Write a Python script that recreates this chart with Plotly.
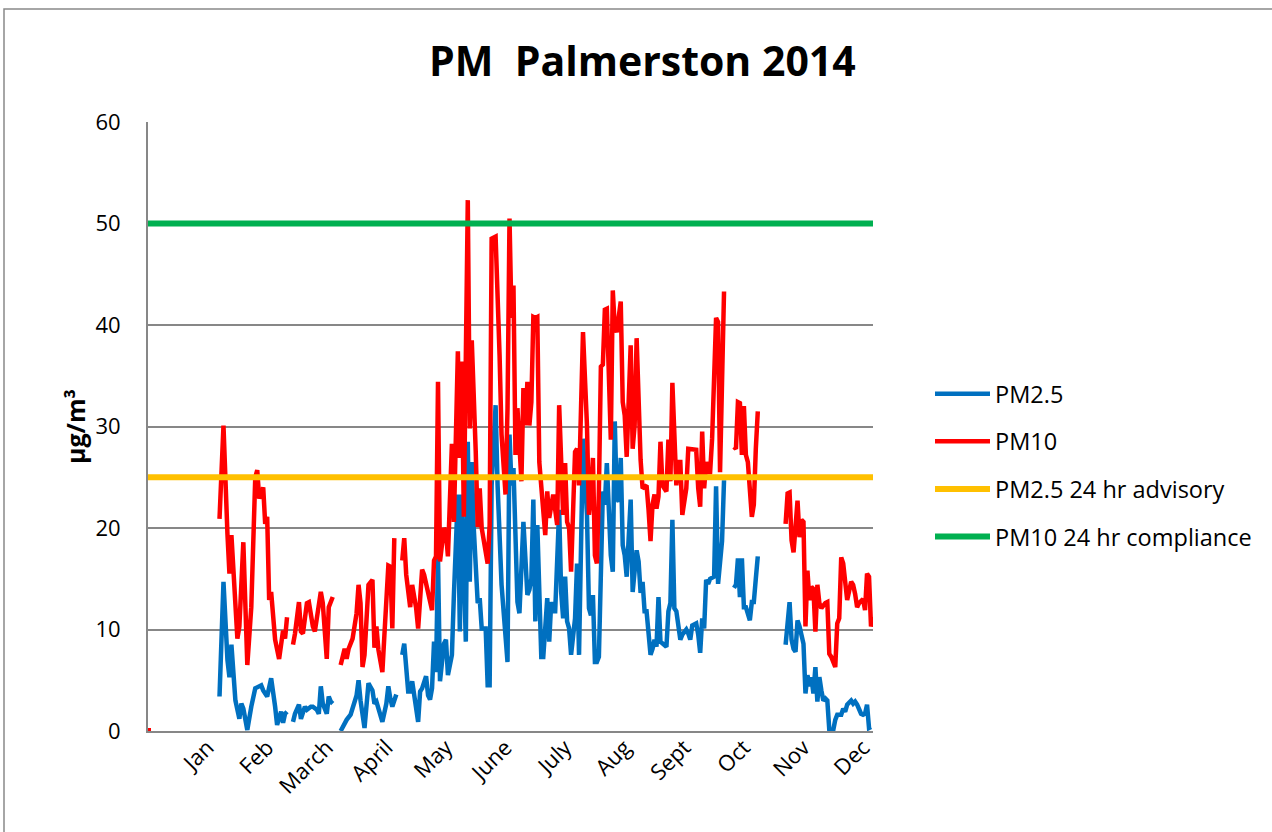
import plotly.graph_objects as go

# ---------------- data (day of year index, value in ug/m3) ----------------
months = ["Jan", "Feb", "March", "April", "May", "June", "July", "Aug", "Sept", "Oct", "Nov", "Dec"]
month_label_days = [30, 60, 90, 120, 150, 180, 210, 240, 270, 300, 330, 360]

pm10_days = [0, 1,
    36, 38, 40, 41, 42, 44, 45, 46, 48, 50, 52, 54, 55, 56, 58, 59, 60, 61, 62, 64, 66, 68, 69, 70, 71,
    73, 74, 76, 77, 78, 80, 81, 83, 84, 85, 87, 88, 89, 90, 91, 92, 93, 95,
    97, 99, 100, 101, 103, 105, 106, 107, 108, 109, 111, 113, 114, 115, 116, 118, 119, 121, 122, 123, 124, 126,
    128, 129, 130, 132, 133, 135, 136, 138, 139, 141,
    143, 144, 145, 146, 147, 149, 150, 151, 153, 154,
    155, 156, 157, 158, 159, 161, 162, 163, 165, 166,
    167, 168, 171, 172, 173, 175, 177, 178, 180, 181,
    182, 183, 184, 185, 186, 188, 189, 190, 191, 192,
    193, 194, 195, 196, 197, 198, 200, 201, 202, 204,
    205, 206, 207, 208, 209, 210, 211, 212, 213, 215,
    216, 217, 218, 219, 221, 222, 223, 224, 225, 226,
    227, 228, 229, 230, 231, 233, 234, 235, 236, 238,
    239, 240, 241, 243, 244, 245, 246, 247, 248, 249,
    251, 252, 253, 254, 255, 256, 257, 258, 259, 260,
    261, 262, 263, 264, 266, 267, 268, 269, 271, 272,
    273, 274, 276, 277, 278, 279, 280, 281, 282, 283,
    284, 286, 287, 288, 289, 290, 292,
    295, 296, 297, 298, 299, 300, 301, 302, 304, 305, 306, 307, 314,
    321, 322, 323, 324, 325, 326, 327, 328, 329, 330,
    331, 332, 333, 334, 335, 336, 337, 338, 339, 341,
    342, 343, 344, 346, 347, 348, 349, 350, 351, 352,
    354, 355, 356, 357, 358, 360, 361, 362, 363, 364, 365]
pm10_vals = [0, None,
    20.9, 30.1, 19.4, 15.5, 19.3, 11.2, 9.1, 10.3, 18.6, 6.5, 12.2, 25.0, 25.7, 22.9, 24.0, 20.4, 21.1, 12.9, 13.7, 9.0, 7.1, 9.9, 9.1, 11.2, None,
    8.5, 9.6, 12.7, 9.8, 9.6, 12.6, 12.7, 10.3, 9.8, 10.9, 13.7, 12.6, 9.6, 7.1, 12.2, 12.6, 13.2, None,
    6.5, 8.1, 7.1, 8.1, 9.1, 11.6, 14.4, 12.6, 6.3, 7.5, 14.4, 14.9, 8.2, 10.3, 8.0, 5.8, 9.4, 16.3, 16.2, 10.1, 19.0, None,
    16.8, 19.0, 15.4, 12.2, 14.4, 12.1, 10.1, 15.9, 15.4, 13.4,
    11.9, 16.8, 17.2, 34.4, 16.7, 20.0, 19.6, 17.2, 28.3, 20.6,
    28.5, 37.4, 26.9, 36.4, 21.1, 52.3, 29.8, 38.5, 27.5, 20.1,
    23.9, 20.0, 16.5, 20.3, 48.5, 48.7, 37.0, 29.2, 23.3, 31.8,
    50.5, 40.7, 43.9, 27.2, 31.8, 24.6, 33.8, 30.1, 34.4, 30.1,
    32.4, 40.8, 40.7, 40.8, 26.5, 24.1, 19.3, 23.6, 21.0, 23.3,
    21.3, 20.3, 32.1, 26.0, 21.3, 26.4, 20.6, 20.0, 15.7, 27.5,
    27.8, 24.2, 30.1, 39.3, 30.1, 21.3, 23.3, 26.9, 17.3, 16.5,
    23.6, 35.9, 36.1, 41.5, 41.6, 28.7, 43.4, 39.7, 39.3, 42.3,
    32.4, 31.1, 27.0, 38.0, 27.8, 30.1, 38.7, 32.4, 26.7, 23.9,
    24.2, 21.8, 18.7, 22.3, 23.3, 21.9, 23.1, 28.5, 24.2, 23.9,
    23.6, 28.7, 24.6, 34.3, 24.2, 26.5, 26.5, 21.3, 23.9, 27.8,
    27.8, 27.7, 27.7, 23.9, 22.1, 29.5, 23.9, 26.5, 25.5, 25.5,
    28.8, 40.7, 40.3, 25.5, 34.4, 43.3, None,
    28.0, 27.8, 32.4, 32.3, 27.2, 32.0, 27.2, 26.5, 21.1, 22.3, 27.8, 31.5, None,
    20.4, 23.4, 23.5, 18.8, 17.6, 20.1, 22.7, 19.1, 20.8, 20.6,
    10.3, 15.8, 12.9, 14.2, 14.0, 9.8, 14.4, 12.6, 12.1, 12.6,
    12.7, 7.6, 7.3, 6.3, 10.6, 11.1, 17.1, 16.5, 14.7, 12.9,
    14.7, 14.4, 13.5, 12.2, 12.6, 13.0, 11.9, 15.5, 15.2, 10.3, 11.2]

pm25_days = [
    36, 38, 40, 41, 42, 44, 46, 47, 48, 50, 52, 54, 57, 58, 60, 62, 64, 65, 67, 68, 69, 70, 71,
    73, 74, 76, 77, 79, 80, 82, 83, 85, 86, 87, 88, 90, 91, 92, 93, 95,
    97, 99, 100, 102, 104, 105, 106, 107, 109, 110, 111, 113, 114, 115, 117, 118, 120, 121, 122, 123, 125, 126,
    128, 129, 131, 132, 133, 135, 136, 137, 138, 140,
    141, 142, 143, 144, 145, 146, 147, 149, 150, 151,
    153, 154, 156, 157, 158, 160, 161, 162, 163, 164,
    166, 167, 168, 170, 171, 172, 173, 175, 176, 178,
    179, 181, 182, 183, 184, 186, 187, 188, 189, 191,
    192, 193, 194, 195, 196, 198, 199, 201, 202, 203,
    204, 205, 207, 208, 209, 210, 211, 212, 213, 215,
    216, 217, 218, 219, 221, 222, 223, 224, 225, 226,
    227, 228, 229, 230, 231, 233, 234, 235, 236, 237,
    238, 239, 240, 241, 243, 244, 245, 246, 247, 248,
    249, 250, 251, 253, 254, 255, 256, 257, 258, 259,
    261, 262, 263, 264, 265, 266, 267, 268, 269, 271,
    272, 273, 274, 276, 277, 278, 279, 280, 281, 282,
    283, 285, 286, 287, 289, 290, 292,
    295, 296, 297, 298, 299, 300, 301, 302, 303, 304, 305, 306, 307, 314,
    321, 322, 323, 324, 325, 326, 327, 328, 329, 330,
    331, 332, 333, 334, 335, 336, 337, 338, 339, 340,
    341, 342, 343, 344, 345, 346, 347, 349, 350, 351,
    352, 354, 355, 356, 357, 359, 360, 361, 362, 363, 364]
pm25_vals = [
    3.4, 14.7, 7.0, 5.3, 8.5, 3.0, 1.2, 2.7, 2.2, 0.1, 2.4, 4.2, 4.5, 4.0, 3.4, 5.2, 2.4, 0.6, 1.9, 0.8, 1.7, 1.9, None,
    0.9, 1.7, 2.6, 1.2, 2.4, 2.1, 2.4, 2.4, 2.1, 1.7, 4.4, 2.7, 1.7, 3.4, 2.9, 2.7, None,
    0.0, 0.9, 1.1, 1.6, 2.7, 3.5, 5.0, 3.0, 0.3, 2.1, 4.7, 4.0, 2.7, 2.9, 1.7, 0.9, 2.7, 4.4, 3.2, 2.4, 3.6, None,
    7.5, 8.6, 3.9, 3.9, 4.9, 2.1, 0.9, 3.9, 4.2, 5.4,
    3.5, 3.1, 4.2, 8.8, 5.8, 17.0, 4.9, 8.6, 9.0, 5.5,
    7.5, 13.4, 23.3, 9.8, 23.3, 8.8, 28.5, 14.7, 26.5, 20.0,
    12.6, 13.1, 10.1, 10.1, 4.5, 4.5, 24.2, 32.1, 24.2, 14.4,
    12.1, 6.8, 29.2, 24.2, 25.9, 12.7, 11.6, 17.7, 20.6, 13.4,
    13.9, 15.0, 22.8, 10.8, 20.3, 7.3, 7.3, 13.1, 8.8, 12.7,
    11.8, 11.8, 21.8, 13.7, 11.1, 15.2, 10.8, 10.1, 7.5, 11.1,
    16.5, 7.5, 18.0, 28.8, 21.3, 12.1, 11.4, 13.4, 6.8, 6.8,
    7.3, 18.3, 23.6, 22.3, 26.4, 17.3, 15.7, 30.5, 22.9, 22.6,
    26.9, 18.3, 17.3, 15.2, 22.8, 13.7, 16.4, 17.8, 16.7, 13.6,
    14.7, 11.8, 11.8, 7.5, 8.1, 9.0, 8.3, 13.2, 8.8, 8.6,
    8.3, 11.8, 12.6, 20.8, 12.1, 11.8, 10.0, 9.0, 9.5, 10.0,
    9.6, 9.0, 10.4, 10.6, 9.5, 7.7, 11.1, 10.1, 14.9, 14.5,
    15.0, 15.2, 24.1, 14.5, 18.7, 24.7, None,
    14.1, 14.4, 17.0, 13.2, 17.0, 12.2, 12.2, 11.4, 10.9, 12.7, 12.7, 15.0, 17.2, None,
    8.5, 11.2, 12.7, 9.0, 8.1, 7.8, 10.9, 10.3, 9.6, 8.6,
    3.7, 5.5, 4.4, 5.3, 3.7, 6.3, 2.9, 5.3, 4.0, 3.0,
    3.2, 3.0, 0.1, 0.1, 0.1, 1.1, 1.6, 1.6, 2.2, 1.9,
    2.6, 3.0, 2.7, 2.9, 2.6, 1.7, 1.6, 1.7, 2.6, 0.3, 0.4]

advisory_days = [0, 365]
advisory_vals = [25, 25]
compliance_days = [0, 365]
compliance_vals = [50, 50]

assert len(pm10_days) == len(pm10_vals)
assert len(pm25_days) == len(pm25_vals)

FONT = "Open Sans"
GRID = "#878787"

fig = go.Figure()
fig.add_trace(go.Scatter(x=pm25_days, y=pm25_vals, mode="lines", name="PM2.5",
                         line=dict(color="#0070C0", width=4.5), legendgroup="g1"))
fig.add_trace(go.Scatter(x=pm10_days, y=pm10_vals, mode="lines", name="PM10",
                         line=dict(color="#FF0000", width=4.5), legendgroup="g2"))
fig.add_trace(go.Scatter(x=pm10_days[:1], y=pm10_vals[:1], mode="markers", showlegend=False,
                         marker=dict(color="#FF0000", size=6, symbol="square"), legendgroup="g2"))
fig.add_trace(go.Scatter(x=advisory_days, y=advisory_vals, mode="lines", name="PM2.5 24 hr advisory",
                         line=dict(color="#FFC000", width=6), legendgroup="g3"))
fig.add_trace(go.Scatter(x=compliance_days, y=compliance_vals, mode="lines", name="PM10 24 hr compliance",
                         line=dict(color="#00B050", width=6), legendgroup="g4"))

L, R, T, B = 148, 873, 122, 731
W, H = 1272, 832
pw, ph = R - L, B - T

def px_x(p):
    return (p - L) / pw

def px_y(p):
    return (B - p) / ph

fig.update_layout(
    width=W, height=H,
    margin=dict(l=L, r=W - R, t=T, b=H - B),
    paper_bgcolor="white", plot_bgcolor="white",
    font=dict(family=FONT, color="black"),
    title=dict(text="PM\u00a0 Palmerston 2014", x=0.505, xref="container", xanchor="center",
               y=1 - 62 / H, yref="container", yanchor="middle",
               font=dict(family=FONT, size=41, color="black", weight="bold")),
    xaxis=dict(range=[0, 365], tickmode="array", tickvals=month_label_days, ticktext=months,
               tickangle=-45, showgrid=False, zeroline=False, showline=True,
               linecolor=GRID, linewidth=2, ticks="", tickfont=dict(size=22, family=FONT),
               ticklabelstandoff=-7),
    yaxis=dict(range=[0, 60], dtick=10, showgrid=True, gridcolor=GRID, gridwidth=1.5,
               zeroline=False, showline=True, linecolor=GRID, linewidth=2, ticks="",
               tickfont=dict(size=22, family=FONT), ticklabelstandoff=21,
               title=dict(text="µg/m³", standoff=3,
                          font=dict(size=25, family=FONT, weight="bold"))),
    legend=dict(x=px_x(930), y=px_y(372), xanchor="left", yanchor="top",
                font=dict(size=23.5, family=FONT), bgcolor="rgba(0,0,0,0)",
                traceorder="grouped", tracegroupgap=14, itemwidth=55),
    shapes=[dict(type="rect", xref="paper", yref="paper",
                 x0=px_x(4), y0=px_y(850), x1=px_x(1300), y1=px_y(9),
                 line=dict(color="#898989", width=1.5), fillcolor="rgba(0,0,0,0)", layer="below")],
    showlegend=True,
)

fig.write_html("out.html", config={"displayModeBar": False},
               post_script="document.body.style.margin='0px';")
